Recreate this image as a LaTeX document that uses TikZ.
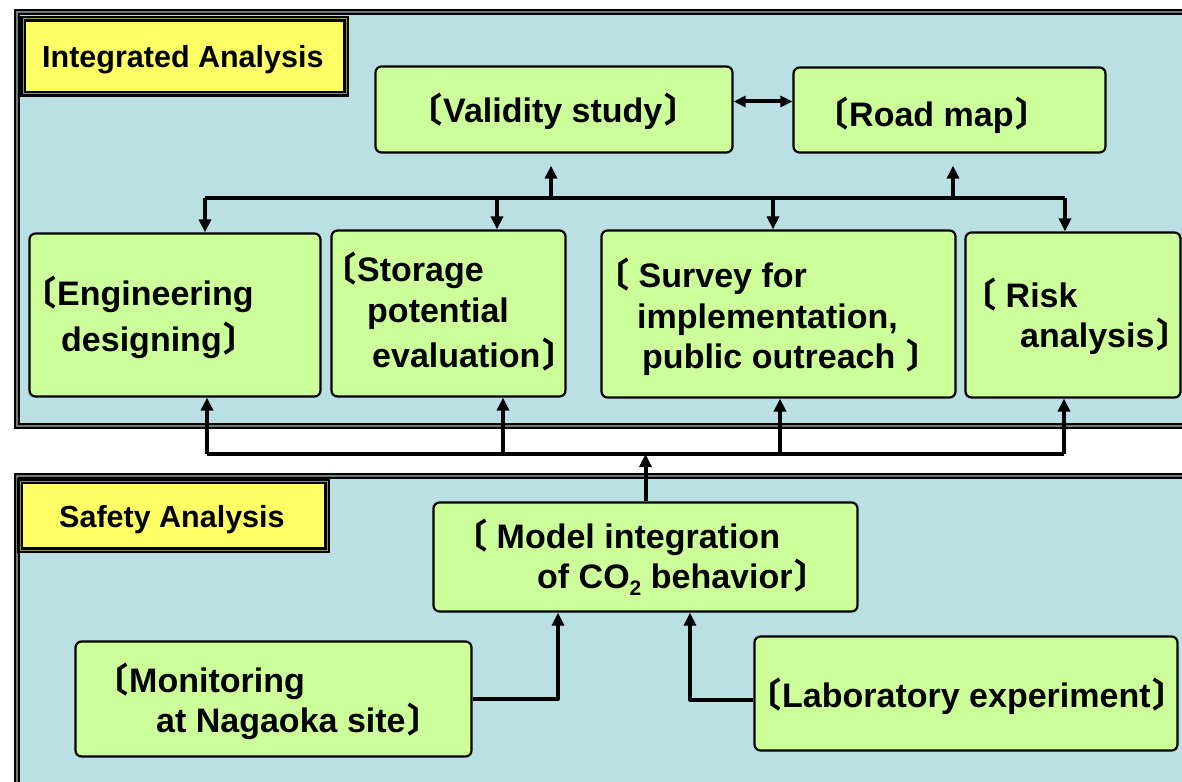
\documentclass[tikz,border=0pt]{standalone}
\usepackage{fontspec}
\setmainfont{Liberation Sans}
\newfontfamily\cjk{Noto Sans CJK JP}
\usetikzlibrary{arrows.meta}

\definecolor{panelblue}{RGB}{186,224,227}
\definecolor{boxgreen}{RGB}{204,255,153}
\definecolor{tagyellow}{RGB}{255,255,102}
\definecolor{rimgray}{RGB}{110,122,122}
\definecolor{rimolive}{RGB}{150,150,60}

% tortoise-shell brackets, kerned close to the words
\newcommand\lbr{{\cjk\kern-0.52em 〔\kern0.02em}}
\newcommand\rbr{{\cjk\kern0.06em 〕\kern-0.35em}}

\tikzset{
  panel/.style={fill=panelblue, draw=black, line width=2.5pt, double=rimgray, double distance=1.2pt},
  tag/.style={fill=tagyellow, draw=black, line width=2.5pt, double=rimolive, double distance=1pt, inner sep=0pt},
  gbox/.style={draw=black, fill=boxgreen, line width=2.2pt, rounded corners=6pt, inner sep=0pt},
  txt/.style={anchor=base west, inner sep=0pt, font=\fontsize{34}{40}\selectfont\bfseries},
  tagtxt/.style={anchor=base west, inner sep=0pt, font=\fontsize{30.5}{36}\selectfont\bfseries},
  wire/.style={line width=4pt, line join=round},
  arr/.style={wire, -{Triangle[length=13pt,width=12pt]}},
  darr/.style={wire, {Triangle[length=12pt,width=11pt]}-{Triangle[length=12pt,width=11pt]}}
}

\begin{document}
\begin{tikzpicture}[x=1pt,y=-1pt]
\clip (0,0) rectangle (1182,781);
\fill[white] (0,0) rectangle (1182,781);

% the two panels
\draw[panel] (17,12) rectangle (1200,426);
\draw[panel] (17,476) rectangle (1200,800);

% panel titles
\draw[tag] (23,19) rectangle (346,94);
\node[tagtxt] (ttop) at (42,68) {Integrated Analysis};
\draw[tag] (20,481) rectangle (327,550);
\node[tagtxt] (tbot) at (59,527) {Safety Analysis};

% boxes
\node[gbox, minimum width=357pt, minimum height=86pt] (val)  at (554,109.5) {};
\node[gbox, minimum width=312pt, minimum height=85pt] (road) at (949.5,110) {};
\node[gbox, minimum width=291pt, minimum height=163pt] (eng) at (175,315) {};
\node[gbox, minimum width=234pt, minimum height=166pt] (sto) at (448.5,313.5) {};
\node[gbox, minimum width=354pt, minimum height=167pt] (sur) at (778.5,314) {};
\node[gbox, minimum width=215pt, minimum height=165pt] (risk) at (1073,315) {};
\node[gbox, minimum width=424pt, minimum height=109pt] (mod) at (645.5,557) {};
\node[gbox, minimum width=396pt, minimum height=115pt] (mon) at (273.5,699) {};
\node[gbox, minimum width=423pt, minimum height=114pt] (lab) at (966,693.5) {};

% box texts
\node[txt] (val-t) at (426,123) {\lbr Validity study\rbr};
\node[txt] (road-t) at (832,127) {\lbr Road map\rbr};
\node[txt] (eng-a) at (40,305) {\lbr Engineering};
\node[txt] (eng-b) at (61,351) {designing\rbr};
\node[txt] (sto-a) at (340,281) {\lbr Storage};
\node[txt] (sto-b) at (367,322) {potential};
\node[txt] (sto-c) at (372,367) {evaluation\rbr};
\node[txt] (sur-a) at (613,287) {\lbr\hspace{0.25em}Survey for};
\node[txt] (sur-b) at (637,328) {implementation,};
\node[txt] (sur-c) at (642,368) {public outreach \rbr};
\node[txt] (risk-a) at (980,307) {\lbr\hspace{0.25em}Risk};
\node[txt] (risk-b) at (1020,347) {analysis\rbr};
\node[txt] (mod-a) at (471,548) {\lbr\hspace{0.25em}Model integration};
\node[txt] (mod-b) at (537,588) {of CO\raisebox{-0.22em}{\fontsize{21}{21}\selectfont 2} behavior\rbr};
\node[txt] (mon-a) at (112,692) {\lbr Monitoring};
\node[txt] (mon-b) at (156,732) {at Nagaoka site\rbr};
\node[txt] (lab-t) at (765,707) {\lbr Laboratory experiment\rbr};

% bus junctions
\coordinate (tb1) at (205,198);
\coordinate (tb4) at (1065,198);
\coordinate (lb1) at (207,454);
\coordinate (lb4) at (1064,454);

% validity study and road map inform each other
\draw[darr] ([yshift=8pt]val.east) -- ([yshift=8pt]val.east -| road.west);

% top bus: feeds the four studies, reports to validity study and road map
\draw[wire] (tb1) -- (tb4);
\draw[arr] (tb1) -- (tb1 |- eng.north);
\draw[arr] (tb4) -- (tb4 |- risk.north);
\draw[arr] (tb1 -| 497,0) -- (497,0 |- sto.north);
\draw[arr] (tb1 -| 773,0) -- (773,0 |- sur.north);
\draw[arr] (tb1 -| 551,0) -- ([yshift=-12pt]val.south -| 551,0);
\draw[arr] (tb1 -| 953,0) -- ([yshift=-12pt]road.south -| 953,0);

% lower bus: from the model up to the four studies
\draw[wire] (lb1) -- (lb4);
\draw[arr] (lb1) -- (lb1 |- eng.south);
\draw[arr] (lb4) -- (lb4 |- risk.south);
\draw[arr] (lb1 -| 503,0) -- (503,0 |- sto.south);
\draw[arr] (lb1 -| 780,0) -- (780,0 |- sur.south);
\draw[arr] (mod.north) -- (mod.north |- lb1);

% inputs to the model
\draw[arr] (mon.east) -| ([xshift=-87.5pt]mod.south);
\draw[arr] ([yshift=-6pt]lab.west) -| ([xshift=44.5pt]mod.south);
\end{tikzpicture}
\end{document}
